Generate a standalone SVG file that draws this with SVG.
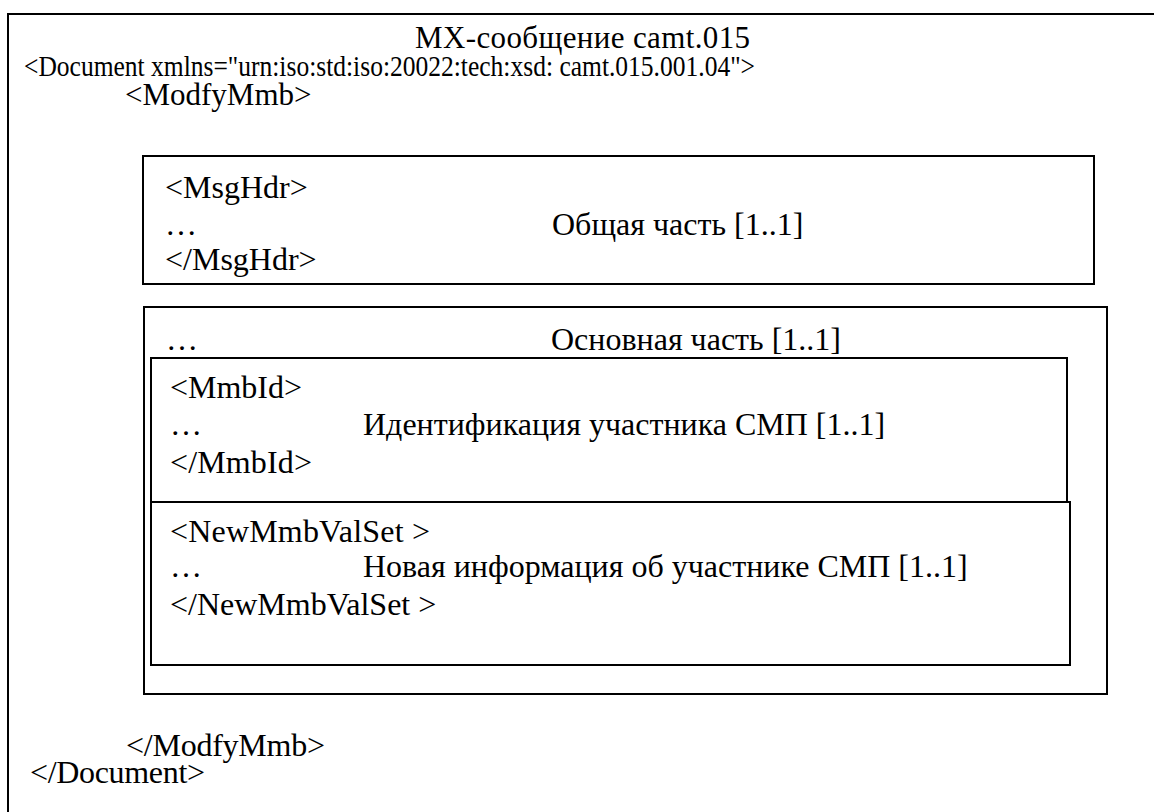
<svg xmlns="http://www.w3.org/2000/svg" width="1154" height="812" viewBox="0 0 1154 812">
<style>
.box{fill:none;stroke:#000;stroke-width:2}
.t{font-family:"Liberation Serif","Times New Roman",serif;font-size:32px;fill:#000}
.h{font-size:31px}
.d{font-size:29px}
</style>
<rect width="1154" height="812" fill="#fff"/>
<g id="document">
<rect class="box" x="8" y="14" width="1170" height="830"/>
<text class="t h" x="415" y="48" textLength="335" lengthAdjust="spacing">MX-сообщение camt.015</text>
<text class="t d" x="24" y="76" textLength="731" lengthAdjust="spacingAndGlyphs">&lt;Document xmlns="urn:iso:std:iso:20022:tech:xsd: camt.015.001.04"&gt;</text>
<text class="t h" x="125" y="105">&lt;ModfyMmb&gt;</text>
<text class="t" x="126" y="756" textLength="199" lengthAdjust="spacing">&lt;/ModfyMmb&gt;</text>
<text class="t" x="30" y="783" textLength="175" lengthAdjust="spacing">&lt;/Document&gt;</text>
</g>
<g id="msghdr">
<rect class="box" x="143" y="156" width="951" height="128"/>
<text class="t" x="165" y="198">&lt;MsgHdr&gt;</text>
<text class="t" x="165" y="235">…</text>
<text class="t" x="552" y="235">Общая часть [1..1]</text>
<text class="t" x="165" y="270">&lt;/MsgHdr&gt;</text>
</g>
<g id="main">
<rect class="box" x="144" y="307" width="963" height="387"/>
<text class="t" x="166" y="350">…</text>
<text class="t" x="551" y="350">Основная часть [1..1]</text>
</g>
<g id="mmbid">
<rect class="box" x="151" y="358" width="916" height="144"/>
<text class="t" x="170" y="398" textLength="132" lengthAdjust="spacing">&lt;MmbId&gt;</text>
<text class="t" x="170" y="435">…</text>
<text class="t" x="363" y="435">Идентификация участника СМП [1..1]</text>
<text class="t" x="170" y="473" textLength="142" lengthAdjust="spacing">&lt;/MmbId&gt;</text>
</g>
<g id="newmmbvalset">
<rect class="box" x="151" y="502" width="919" height="163"/>
<text class="t" x="170" y="542" textLength="260" lengthAdjust="spacing">&lt;NewMmbValSet &gt;</text>
<text class="t" x="170" y="577">…</text>
<text class="t" x="363" y="577">Новая информация об участнике СМП [1..1]</text>
<text class="t" x="170" y="615">&lt;/NewMmbValSet &gt;</text>
</g>
<g id="connectors"></g>
</svg>
